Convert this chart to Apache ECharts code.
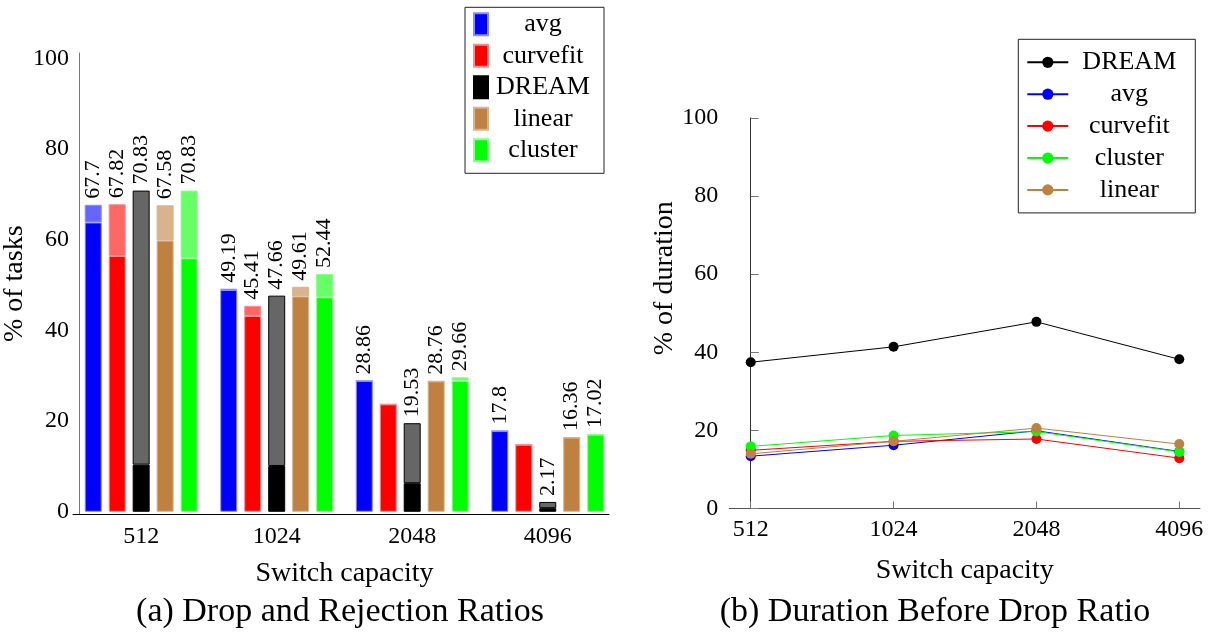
<!DOCTYPE html>
<html>
<head>
<meta charset="utf-8">
<script src="https://cdn.jsdelivr.net/npm/echarts@6/dist/echarts.min.js"></script>
<style>
  html, body { margin: 0; background: #fff; }
  #chart { width: 1220px; height: 632px; }
</style>
</head>
<body>
<div id="chart"></div>
<script>
// switch capacities (x categories of both charts)
const capacities = ['512', '1024', '2048', '4096']

// (a) drop + rejection: lower (solid) part and total (label) per method
const avgLow = [63.8, 48.9, 28.86, 17.8]
const avgTotal = [67.7, 49.19, 28.86, 17.8]
const curvefitLow = [56.4, 43.2, 23.7, 14.8]
const curvefitTotal = [67.82, 45.41, 23.7, 14.8]
const curvefitLabelled = [true, true, false, false]
const dreamLow = [10.4, 10.1, 6.3, 0.8]
const dreamTotal = [70.83, 47.66, 19.53, 2.17]
const linearLow = [59.8, 47.5, 28.76, 16.36]
const linearTotal = [67.58, 49.61, 28.76, 16.36]
const clusterLow = [55.9, 47.3, 28.9, 17.02]
const clusterTotal = [70.83, 52.44, 29.66, 17.02]

// (b) duration before drop, % of duration
const durDream = [37.45, 41.4, 47.8, 38.2]
const durAvg = [13.4, 16.2, 19.9, 14.6]
const durCurvefit = [14.9, 17.2, 17.8, 12.9]
const durCluster = [15.9, 18.7, 19.7, 14.5]
const durLinear = [14.0, 17.2, 20.6, 16.5]

const leftTicks = [0, 20, 40, 60, 80, 100]
const serif = 'Liberation Serif'

const barDefs = [
  { name: 'avg', low: avgLow, total: avgTotal, color: '#0000ff', light: '#6666ff', border: '#8c8cff' },
  { name: 'curvefit', low: curvefitLow, total: curvefitTotal, labelled: curvefitLabelled, color: '#ff0000', light: '#ff6666', border: '#ff8c8c' },
  { name: 'DREAM', low: dreamLow, total: dreamTotal, color: '#000000', light: '#666666', border: '#000000' },
  { name: 'linear', low: linearLow, total: linearTotal, color: '#bf8040', light: '#d9b38c', border: '#d9b38c' },
  { name: 'cluster', low: clusterLow, total: clusterTotal, color: '#00ff00', light: '#66ff66', border: '#8cff8c' },
]

const lineDefs = [
  { name: 'DREAM', data: durDream, color: '#000000' },
  { name: 'avg', data: durAvg, color: '#0000ff' },
  { name: 'curvefit', data: durCurvefit, color: '#ff0000' },
  { name: 'cluster', data: durCluster, color: '#00ff00' },
  { name: 'linear', data: durLinear, color: '#bf8040' },
]

const series = []
barDefs.forEach(d => {
  series.push({
    name: d.name,
    type: 'bar',
    stack: d.name,
    xAxisIndex: 0,
    yAxisIndex: 0,
    barWidth: 17,
    barGap: '41%',
    data: d.low,
    itemStyle: { color: d.color, borderColor: d.border, borderWidth: 1 },
    emphasis: { disabled: true },
  })
  series.push({
    name: d.name + ' rejected',
    type: 'bar',
    stack: d.name,
    xAxisIndex: 0,
    yAxisIndex: 0,
    barWidth: 17,
    barGap: '41%',
    data: d.total.map((t, i) => ({
      value: +(t - d.low[i]).toFixed(2),
      label: { show: d.labelled ? d.labelled[i] : true },
    })),
    itemStyle: { color: d.light, borderColor: d.border, borderWidth: 1 },
    label: {
      show: true,
      position: 'top',
      rotate: 90,
      align: 'left',
      verticalAlign: 'middle',
      distance: 6,
      color: '#000',
      fontFamily: serif,
      fontSize: 22,
      formatter: p => String(d.total[p.dataIndex]),
    },
    emphasis: { disabled: true },
  })
})
lineDefs.forEach(d => {
  series.push({
    name: 'dur:' + d.name,
    type: 'line',
    xAxisIndex: 2,
    yAxisIndex: 2,
    data: d.data.map((v, i) => [i, v]),
    symbol: 'circle',
    symbolSize: 10,
    color: d.color,
    lineStyle: { width: 1, color: d.color },
    itemStyle: { color: d.color },
    emphasis: { disabled: true },
  })
})

const legendText = (width) => ({
  fontFamily: serif,
  fontSize: 26,
  rich: { c: { width: width, align: 'center', fontFamily: serif, fontSize: 26, lineHeight: 24, color: '#000' } },
})

const option = {
  animation: false,
  backgroundColor: '#fff',
  textStyle: { fontFamily: serif },
  grid: [
    { left: 67.5, top: 53, width: 548, height: 461.5 },
    { left: 73, top: 53, width: 536, height: 461.5 },
    { left: 729.3, top: 118, width: 470.7, height: 390.5 },
  ],
  xAxis: [
    {
      type: 'category',
      gridIndex: 0,
      data: capacities,
      axisLine: { show: false },
      axisTick: { alignWithLabel: true, inside: true, length: 6, lineStyle: { color: '#777' } },
      axisLabel: { fontFamily: serif, fontSize: 24, color: '#000', margin: 10 },
      name: 'Switch capacity',
      nameLocation: 'middle',
      nameGap: 45,
      nameTextStyle: { fontFamily: serif, fontSize: 28, color: '#000' },
    },
    {
      // axis line only, narrower than the category band layout
      type: 'value',
      gridIndex: 1,
      min: 0,
      max: 1,
      axisLine: { show: true, lineStyle: { color: '#000' } },
      axisTick: { show: false },
      axisLabel: { show: false },
      splitLine: { show: false },
    },
    {
      type: 'value',
      gridIndex: 2,
      min: -0.15,
      max: 3.145,
      axisLine: { show: true, onZero: false, lineStyle: { color: '#555' } },
      axisTick: { customValues: [0, 1, 2, 3], inside: true, length: 7, lineStyle: { color: '#777' } },
      axisLabel: {
        customValues: [0, 1, 2, 3],
        formatter: v => capacities[v],
        fontFamily: serif, fontSize: 24, color: '#000', margin: 9,
      },
      splitLine: { show: false },
      name: 'Switch capacity',
      nameLocation: 'middle',
      nameGap: 48,
      nameTextStyle: { fontFamily: serif, fontSize: 28, color: '#000' },
    },
  ],
  yAxis: [
    {
      type: 'value',
      gridIndex: 0,
      min: -0.6,
      max: 101.17,
      offset: -5.5,
      axisLine: { show: true, lineStyle: { color: '#777' } },
      axisTick: { customValues: leftTicks, inside: true, length: 8, lineStyle: { color: '#777' } },
      axisLabel: { customValues: leftTicks, fontFamily: serif, fontSize: 24, color: '#000', margin: 10 },
      splitLine: { show: false },
      name: '% of tasks',
      nameLocation: 'middle',
      nameGap: 38,
      nameTextStyle: { fontFamily: serif, fontSize: 28, color: '#000' },
    },
    { type: 'value', gridIndex: 1, min: 0, max: 1, show: false },
    {
      type: 'value',
      gridIndex: 2,
      min: 0,
      max: 100,
      interval: 20,
      axisLine: { show: true, lineStyle: { color: '#333' } },
      axisTick: { inside: true, length: 8, lineStyle: { color: '#777' } },
      axisLabel: { fontFamily: serif, fontSize: 24, color: '#000', margin: 11 },
      splitLine: { show: false },
      name: '% of duration',
      nameLocation: 'middle',
      nameGap: 44,
      nameTextStyle: { fontFamily: serif, fontSize: 28, color: '#000', padding: [0, 0, 0, 70] },
    },
  ],
  legend: [
    {
      orient: 'vertical',
      left: 465,
      top: 7.3,
      data: barDefs.map(d => d.name),
      icon: 'rect',
      itemWidth: 14,
      itemHeight: 22,
      itemGap: 5.5,
      padding: [4, 11, 10, 8],
      borderColor: '#222',
      borderWidth: 1,
      selectedMode: false,
      formatter: '{c|{name}}',
      textStyle: legendText(100),
    },
    {
      orient: 'vertical',
      left: 1018.3,
      top: 39.3,
      data: lineDefs.map(d => 'dur:' + d.name),
      itemWidth: 41,
      itemHeight: 14,
      itemGap: 5.9,
      padding: [10, 10, 10, 8],
      borderColor: '#222',
      borderWidth: 1,
      selectedMode: false,
      formatter: name => '{c|' + name.replace('dur:', '') + '}',
      textStyle: legendText(112),
    },
  ],
  graphic: [
    {
      type: 'text', x: 340, y: 612,
      style: { text: '(a) Drop and Rejection Ratios', align: 'center', verticalAlign: 'middle', fontFamily: serif, fontSize: 34, fill: '#000' },
    },
    {
      type: 'text', x: 935, y: 612,
      style: { text: '(b) Duration Before Drop Ratio', align: 'center', verticalAlign: 'middle', fontFamily: serif, fontSize: 34, fill: '#000' },
    },
  ],
  series: series,
}

const chart = echarts.init(document.getElementById('chart'))
chart.setOption(option)
</script>
</body>
</html>
